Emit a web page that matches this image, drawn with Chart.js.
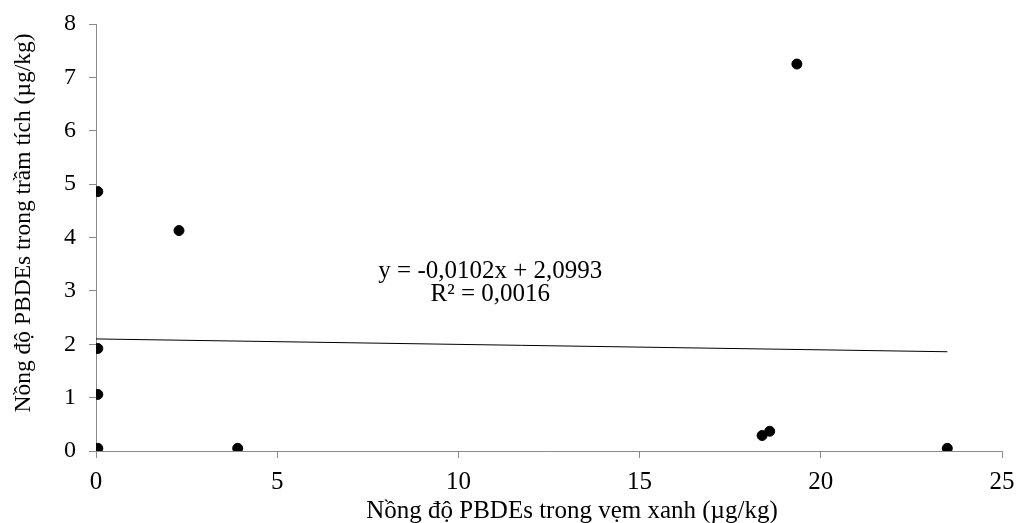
<!DOCTYPE html>
<html><head><meta charset="utf-8">
<script src="https://cdn.jsdelivr.net/npm/chart.js@4.4.0/dist/chart.umd.min.js"></script>
<style>html,body{margin:0;padding:0;background:#fff;}#wrap{width:1016px;height:523px;}</style>
</head><body><div id="wrap"><canvas id="c" width="1016" height="523"></canvas></div>
<script>
const musselX = [0.05, 0.05, 0.05, 0.05, 2.29, 3.91, 18.38, 18.59, 19.34, 23.49];
const sedimentY = [4.86, 1.92, 1.06, 0.05, 4.13, 0.05, 0.29, 0.37, 7.25, 0.05];
const xTicks = [0, 5, 10, 15, 20, 25];
const yTicks = [0, 1, 2, 3, 4, 5, 6, 7, 8];
const trendSlope = -0.0102;
const trendIntercept = 2.0993;
const trendRange = [0, 23.49];
const xTitle = 'Nồng độ PBDEs trong vẹm xanh (µg/kg)';
const yTitle = 'Nồng độ PBDEs trong trầm tích (µg/kg)';
const eqLines = ['y = -0,0102x + 2,0993', 'R² = 0,0016'];

const FONT = '"Liberation Serif", "Times New Roman", serif';
const AXIS = '#898989';
const points = musselX.map((x, i) => ({x, y: sedimentY[i]}));
const trend = trendRange.map(x => ({x, y: trendSlope * x + trendIntercept}));

const overlay = {
  id: 'overlay',
  afterDraw(chart) {
    const ctx = chart.ctx, xs = chart.scales.x, ys = chart.scales.y;
    ctx.save();
    ctx.fillStyle = '#000';
    ctx.font = '25px ' + FONT;
    ctx.textAlign = 'center';
    ctx.textBaseline = 'middle';
    const cx = xs.getPixelForValue(10.88);
    const cy = ys.getPixelForValue(3.37);
    ctx.fillText(eqLines[0], cx, cy);
    ctx.fillText(eqLines[1], cx, cy + 23);
    ctx.fillText(xTitle, 572, 511);
    ctx.font = '23.5px ' + FONT;
    ctx.translate(23.5, 223);
    ctx.rotate(-Math.PI / 2);
    ctx.fillText(yTitle, 0, 0);
    ctx.restore();
  }
};

new Chart(document.getElementById('c'), {
  data: {
    datasets: [
      {type: 'line', data: trend, borderColor: '#000', borderWidth: 1, pointRadius: 0, fill: false, order: 2},
      {type: 'scatter', data: points, backgroundColor: '#000', borderColor: '#000', pointRadius: 5, pointHoverRadius: 5, order: 1}
    ]
  },
  options: {
    responsive: false,
    animation: false,
    events: [],
    layout: {padding: {top: 24, right: 14, left: 0, bottom: 0}},
    plugins: {legend: {display: false}, tooltip: {enabled: false}},
    scales: {
      x: {
        type: 'linear', min: 0, max: 25,
        afterBuildTicks: s => { s.ticks = xTicks.map(v => ({value: v})); },
        afterFit: s => { s.height = 72; s.paddingLeft = 0; s.paddingRight = 0; },
        grid: {drawOnChartArea: false, drawTicks: true, tickLength: 7, tickColor: AXIS},
        border: {color: AXIS, width: 1},
        ticks: {color: '#000', font: {family: FONT, size: 25}, padding: 9, maxRotation: 0},
        title: {display: false, text: xTitle}
      },
      y: {
        type: 'linear', min: 0, max: 8,
        afterBuildTicks: s => { s.ticks = yTicks.map(v => ({value: v})); },
        afterFit: s => { s.width = 96; s.paddingTop = 0; s.paddingBottom = 0; },
        grid: {drawOnChartArea: false, drawTicks: true, tickLength: 7, tickColor: AXIS},
        border: {color: AXIS, width: 1},
        ticks: {color: '#000', font: {family: FONT, size: 24}, padding: 13}
      }
    }
  },
  plugins: [overlay]
});
</script></body></html>
